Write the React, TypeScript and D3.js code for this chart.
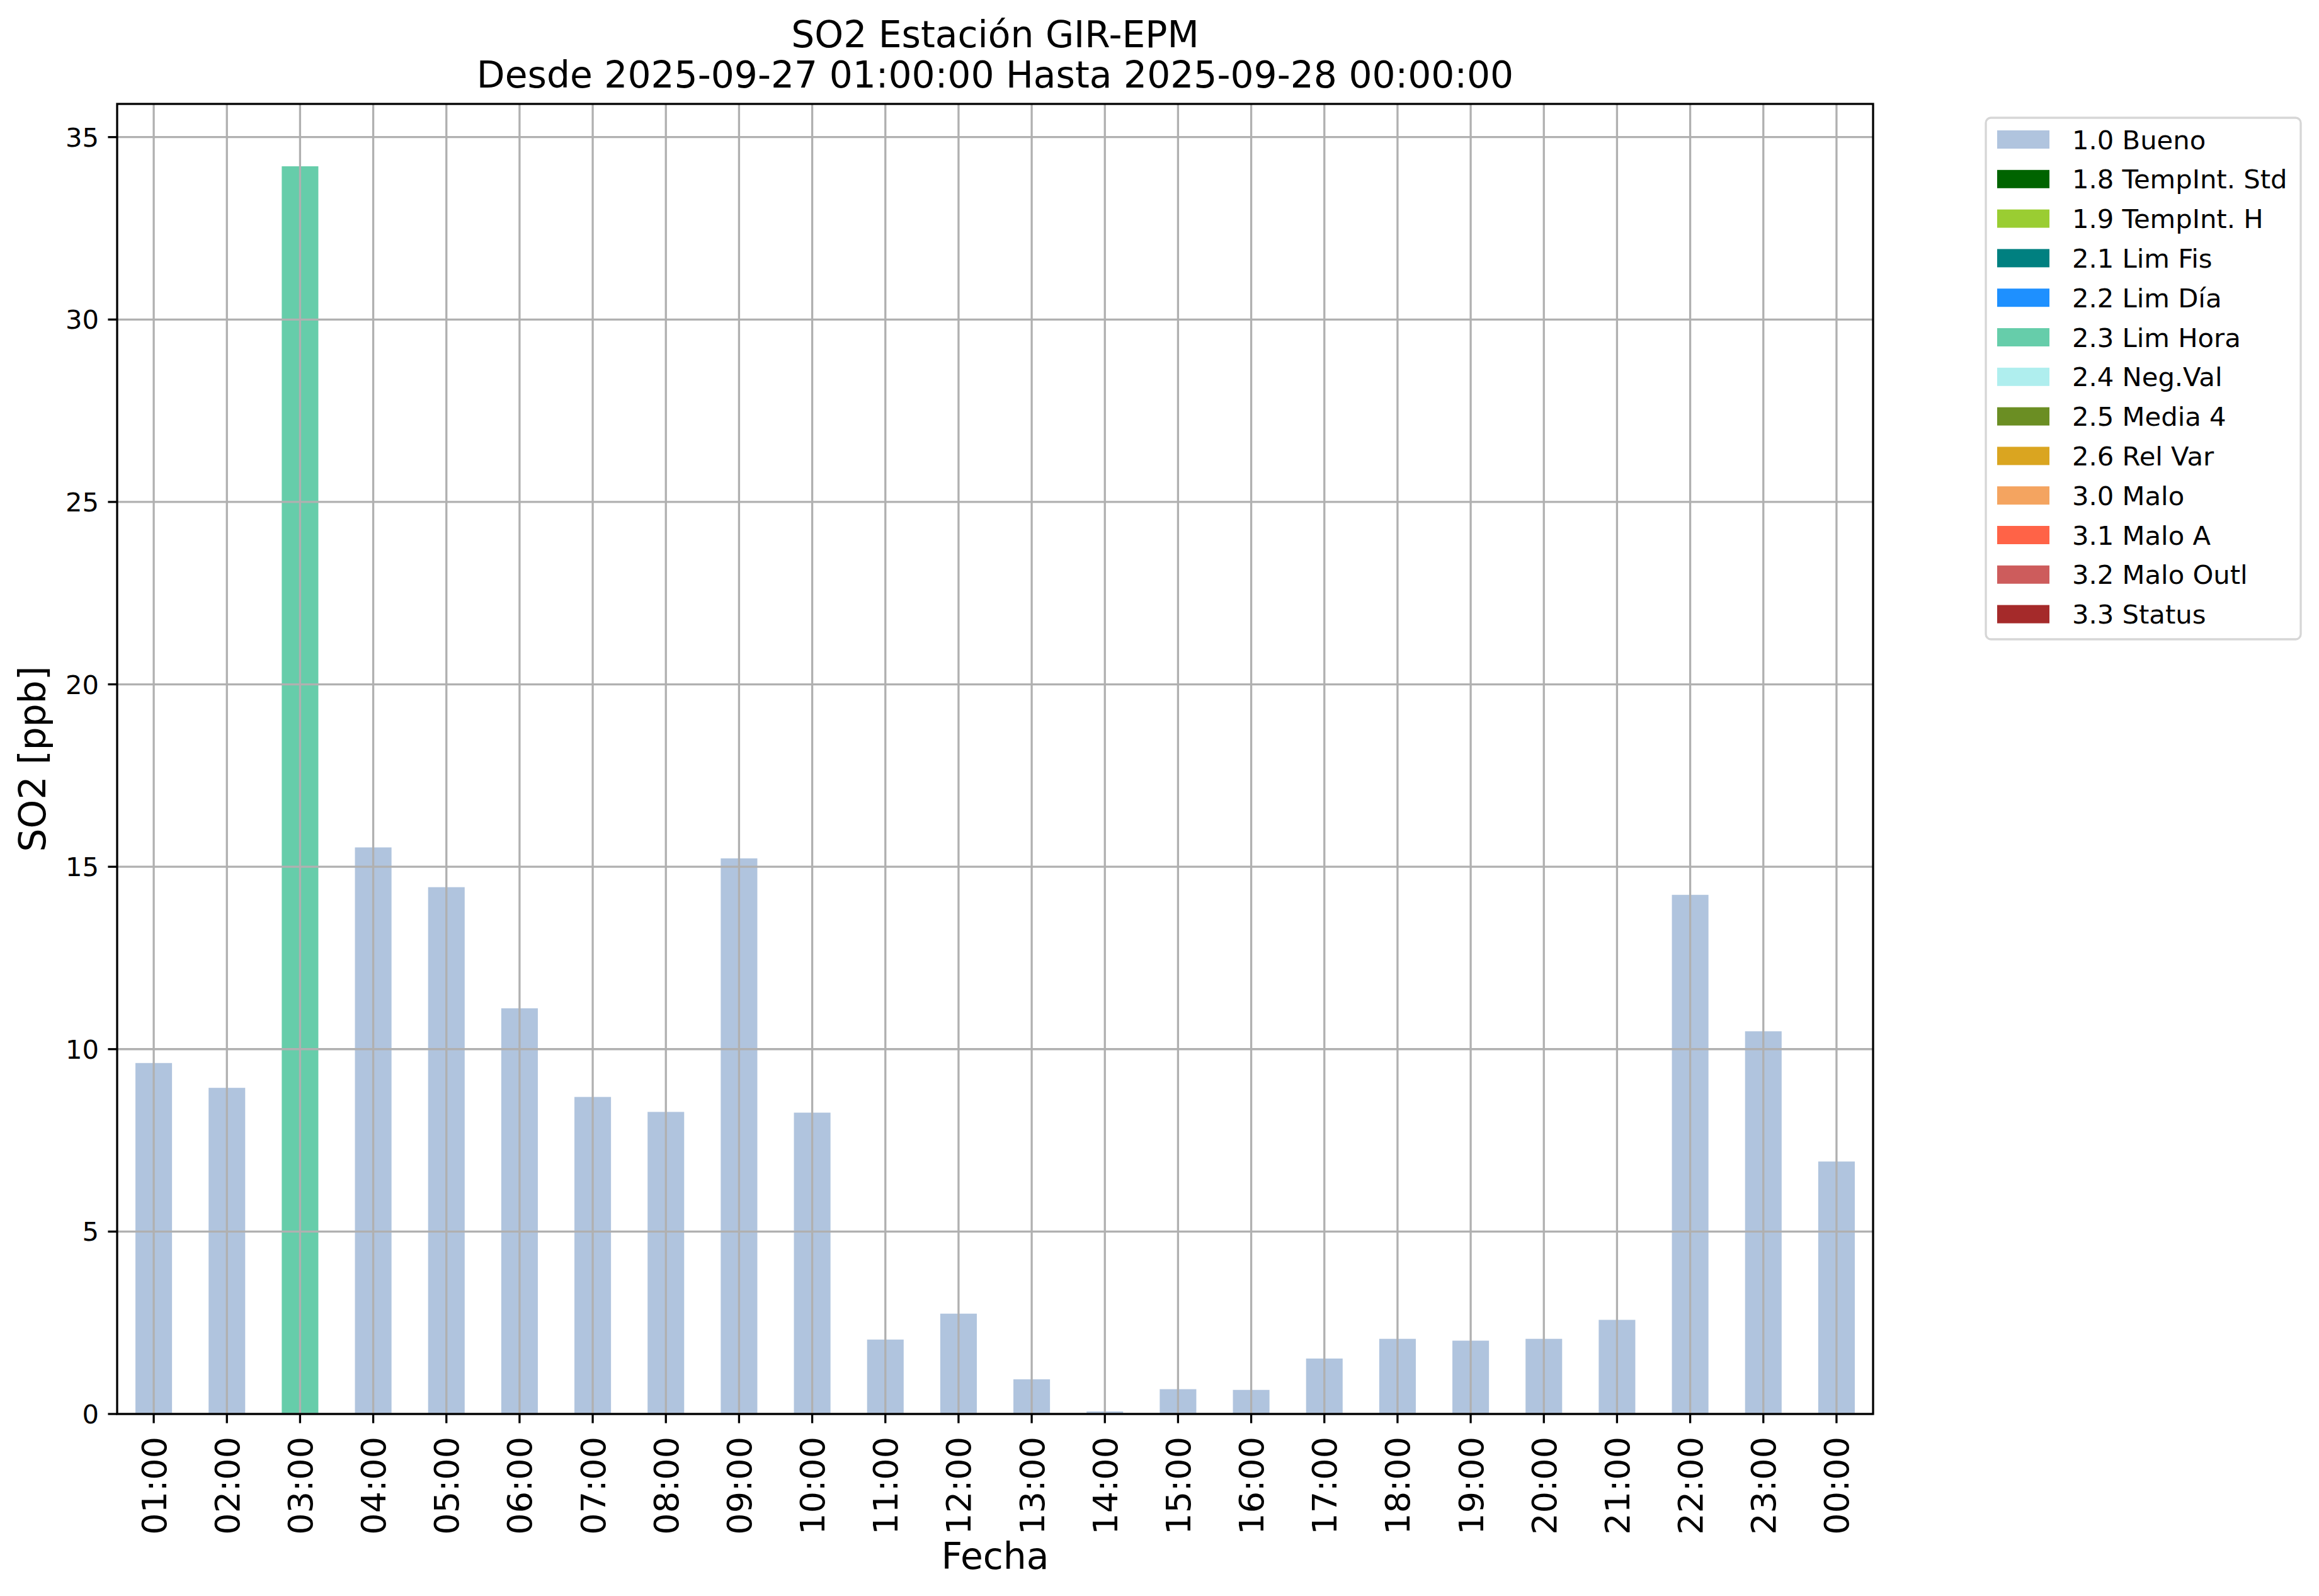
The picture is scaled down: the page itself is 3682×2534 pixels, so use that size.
import React from "react";
import * as d3 from "d3";

const hours = ["01:00","02:00","03:00","04:00","05:00","06:00","07:00","08:00","09:00","10:00","11:00","12:00","13:00","14:00","15:00","16:00","17:00","18:00","19:00","20:00","21:00","22:00","23:00","00:00"];
const so2Values = [9.62, 8.94, 34.2, 15.53, 14.44, 11.12, 8.69, 8.28, 15.23, 8.26, 2.04, 2.75, 0.95, 0.07, 0.68, 0.66, 1.52, 2.06, 2.01, 2.06, 2.58, 14.23, 10.49, 6.92];
const flags = ["1.0 Bueno","1.0 Bueno","2.3 Lim Hora","1.0 Bueno","1.0 Bueno","1.0 Bueno","1.0 Bueno","1.0 Bueno","1.0 Bueno","1.0 Bueno","1.0 Bueno","1.0 Bueno","1.0 Bueno","1.0 Bueno","1.0 Bueno","1.0 Bueno","1.0 Bueno","1.0 Bueno","1.0 Bueno","1.0 Bueno","1.0 Bueno","1.0 Bueno","1.0 Bueno","1.0 Bueno"];
const legendLabels = ["1.0 Bueno","1.8 TempInt. Std","1.9 TempInt. H","2.1 Lim Fis","2.2 Lim Día","2.3 Lim Hora","2.4 Neg.Val","2.5 Media 4","2.6 Rel Var","3.0 Malo","3.1 Malo A","3.2 Malo Outl","3.3 Status"];
const legendColors = ["#b0c4de","#006400","#9acd32","#008080","#1e90ff","#66cdaa","#afeeee","#6b8e23","#daa520","#f4a460","#ff6347","#cd5c5c","#a52a2a"];
const yTicks = [0, 5, 10, 15, 20, 25, 30, 35];

const titleLine1 = "SO2 Estación GIR-EPM";
const titleLine2 = "Desde 2025-09-27 01:00:00 Hasta 2025-09-28 00:00:00";

export default function App() {
  const W = 3682, H = 2534;
  const left = 186, right = 2974, top = 165, bottom = 2245;
  const font = "DejaVu Sans";

  const x = d3.scaleBand<string>().domain(hours).range([left, right]).paddingInner(0.5).paddingOuter(0.25);
  const yMax = d3.max(so2Values)! * 1.05;
  const y = d3.scaleLinear().domain([0, yMax]).range([bottom, top]);
  const colorOf = d3.scaleOrdinal<string, string>().domain(legendLabels).range(legendColors);

  const center = (h: string) => x(h)! + x.bandwidth() / 2;
  const gridColor = "#b0b0b0";

  const legX = 3153, legY = 187, legW = 500, legH = 828;
  const rowStep = 62.8;
  const row0 = 221.5;

  return (
    <svg width={W} height={H} style={{ position: "absolute", left: 0, top: 0, background: "#fff" }} fontFamily={font}>
      <rect x={0} y={0} width={W} height={H} fill="#fff" />
      {/* bars */}
      {hours.map((h, i) => (
        <rect key={h} x={x(h)} width={x.bandwidth()} y={y(so2Values[i])} height={y(0) - y(so2Values[i])} fill={colorOf(flags[i])} />
      ))}
      {/* grid */}
      {hours.map((h) => (
        <line key={"gx" + h} x1={center(h)} x2={center(h)} y1={top} y2={bottom} stroke={gridColor} strokeWidth={3.3} />
      ))}
      {yTicks.map((t) => (
        <line key={"gy" + t} x1={left} x2={right} y1={y(t)} y2={y(t)} stroke={gridColor} strokeWidth={3.3} />
      ))}
      {/* spines */}
      <rect x={left} y={top} width={right - left} height={bottom - top} fill="none" stroke="#000" strokeWidth={3.3} />
      {/* y ticks */}
      {yTicks.map((t) => (
        <g key={"yt" + t}>
          <line x1={left - 14.6} x2={left} y1={y(t)} y2={y(t)} stroke="#000" strokeWidth={3.3} />
          <text x={157} y={y(t)} dy="0.36em" textAnchor="end" fontSize={41.7} fill="#000">{t}</text>
        </g>
      ))}
      {/* x ticks */}
      {hours.map((h) => (
        <g key={"xt" + h}>
          <line x1={center(h)} x2={center(h)} y1={bottom} y2={bottom + 14.6} stroke="#000" strokeWidth={3.3} />
          <text transform={`translate(${center(h)},${2281}) rotate(-90)`} dy="0.36em" textAnchor="end" fontSize={54} fill="#000">{h}</text>
        </g>
      ))}
      {/* axis labels */}
      <text x={(left + right) / 2} y={2491} textAnchor="middle" fontSize={58.3} fill="#000">Fecha</text>
      <text transform={`translate(72,${(top + bottom) / 2}) rotate(-90)`} textAnchor="middle" fontSize={58.3} fill="#000">SO2 [ppb]</text>
      {/* title */}
      <text x={(left + right) / 2} y={75} textAnchor="middle" fontSize={58.3} fill="#000">{titleLine1}</text>
      <text x={(left + right) / 2} y={139} textAnchor="middle" fontSize={58.3} fill="#000">{titleLine2}</text>
      {/* legend */}
      <rect x={legX} y={legY} width={legW} height={legH} rx={8} ry={8} fill="#fff" fillOpacity={0.8} stroke="#d6d6d6" strokeWidth={3.3} />
      {legendLabels.map((lab, i) => (
        <g key={"lg" + lab}>
          <rect x={3171} y={row0 + i * rowStep - 14.5} width={83} height={29} fill={colorOf(lab)} />
          <text x={3290} y={row0 + i * rowStep + 15} fontSize={41.7} fill="#000">{lab}</text>
        </g>
      ))}
    </svg>
  );
}
